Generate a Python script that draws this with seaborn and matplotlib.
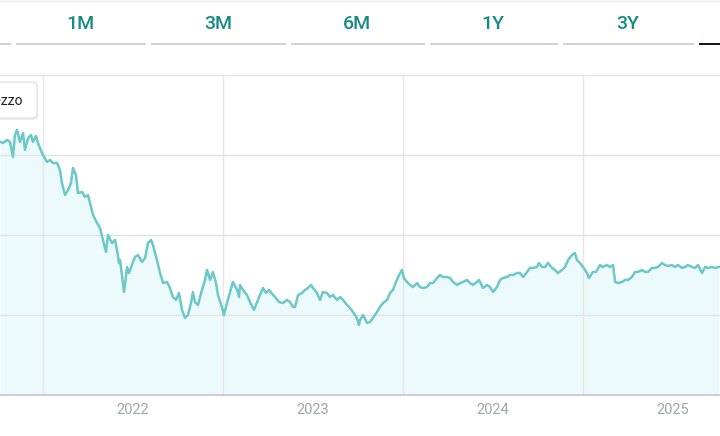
import pandas as pd
import matplotlib.pyplot as plt
import seaborn as sns
from matplotlib.patches import Rectangle, FancyBboxPatch
from matplotlib.transforms import IdentityTransform

# Serie storica (anno decimale, prezzo)
anni = [
    2021.261, 2021.278, 2021.300, 2021.317, 2021.333, 2021.344, 2021.355, 2021.372, 2021.389, 2021.400,
    2021.417, 2021.433, 2021.444, 2021.461, 2021.472, 2021.494, 2021.522, 2021.539, 2021.555, 2021.578,
    2021.594, 2021.605, 2021.622, 2021.639, 2021.655, 2021.667, 2021.683, 2021.694, 2021.717, 2021.733,
    2021.750, 2021.767, 2021.778, 2021.800, 2021.817, 2021.833, 2021.850, 2021.861, 2021.883, 2021.900,
    2021.911, 2021.922, 2021.928, 2021.950, 2021.967, 2021.978, 2022.000, 2022.011, 2022.028, 2022.050,
    2022.067, 2022.083, 2022.100, 2022.111, 2022.133, 2022.150, 2022.167, 2022.189, 2022.205, 2022.222,
    2022.239, 2022.255, 2022.272, 2022.289, 2022.305, 2022.322, 2022.333, 2022.344, 2022.361, 2022.383,
    2022.400, 2022.411, 2022.428, 2022.444, 2022.461, 2022.472, 2022.494, 2022.505, 2022.522, 2022.539,
    2022.555, 2022.578, 2022.589, 2022.594, 2022.611, 2022.633, 2022.650, 2022.672, 2022.694, 2022.722,
    2022.739, 2022.755, 2022.778, 2022.794, 2022.811, 2022.833, 2022.855, 2022.872, 2022.889, 2022.900,
    2022.917, 2022.939, 2022.955, 2022.972, 2022.989, 2023.000, 2023.022, 2023.039, 2023.055, 2023.078,
    2023.094, 2023.111, 2023.133, 2023.150, 2023.167, 2023.189, 2023.205, 2023.222, 2023.244, 2023.255,
    2023.261, 2023.278, 2023.300, 2023.317, 2023.333, 2023.355, 2023.372, 2023.389, 2023.411, 2023.428,
    2023.444, 2023.461, 2023.478, 2023.494, 2023.505, 2023.522, 2023.539, 2023.555, 2023.578, 2023.594,
    2023.611, 2023.633, 2023.650, 2023.667, 2023.689, 2023.705, 2023.722, 2023.744, 2023.761, 2023.778,
    2023.800, 2023.817, 2023.833, 2023.855, 2023.872, 2023.889, 2023.911, 2023.922, 2023.928, 2023.944,
    2023.967, 2023.983, 2024.000, 2024.022, 2024.039, 2024.055, 2024.078, 2024.094, 2024.111, 2024.133,
    2024.150, 2024.167, 2024.189, 2024.205, 2024.222, 2024.244, 2024.255, 2024.272, 2024.289, 2024.305,
    2024.328, 2024.344, 2024.361, 2024.383, 2024.400, 2024.417, 2024.439, 2024.455, 2024.466, 2024.483,
    2024.500, 2024.522, 2024.533, 2024.555, 2024.572, 2024.594, 2024.611, 2024.633, 2024.650, 2024.667,
    2024.678, 2024.694, 2024.717, 2024.733, 2024.750, 2024.772, 2024.789, 2024.805, 2024.828, 2024.844,
    2024.861, 2024.883, 2024.900, 2024.917, 2024.939, 2024.955, 2024.972, 2024.994, 2025.011, 2025.028,
    2025.050, 2025.067, 2025.083, 2025.105, 2025.122, 2025.139, 2025.161, 2025.178, 2025.194, 2025.217,
    2025.233, 2025.255,
]
prezzo = [
    41.66, 41.50, 41.88, 41.63, 39.75, 42.50, 43.13, 41.63, 42.75, 40.63,
    42.13, 42.50, 41.63, 42.38, 41.50, 40.25, 39.13, 39.38, 39.00, 39.00,
    38.13, 36.50, 35.00, 35.63, 36.50, 38.38, 37.50, 35.25, 35.38, 34.75,
    35.00, 33.50, 32.50, 31.50, 30.88, 29.38, 27.88, 30.00, 29.00, 29.38,
    28.13, 26.50, 26.88, 22.88, 26.00, 25.25, 26.63, 27.25, 27.50, 26.63,
    27.13, 29.00, 29.38, 28.75, 26.88, 25.25, 24.00, 24.13, 23.38, 22.25,
    21.88, 22.75, 20.63, 19.63, 20.00, 21.50, 22.88, 21.63, 21.25, 23.13,
    24.38, 25.63, 24.38, 25.38, 24.00, 22.50, 21.00, 20.00, 21.50, 22.88,
    24.13, 23.13, 22.25, 23.75, 23.13, 22.50, 21.63, 20.63, 21.88, 23.38,
    22.75, 23.13, 22.50, 22.13, 21.63, 21.50, 21.88, 21.63, 21.00, 21.00,
    22.50, 22.75, 23.13, 23.38, 23.75, 23.38, 22.75, 21.88, 22.88, 22.75,
    22.25, 22.50, 21.88, 22.25, 21.88, 21.25, 20.88, 20.38, 19.63, 18.75,
    19.38, 20.00, 19.00, 19.13, 19.63, 20.38, 21.00, 21.50, 21.88, 22.75,
    23.13, 24.13, 25.00, 25.63, 24.63, 24.13, 23.75, 23.50, 24.00, 23.50,
    23.38, 23.50, 24.00, 24.00, 24.63, 25.00, 24.75, 24.75, 24.63, 24.13,
    23.75, 24.00, 24.13, 24.38, 24.00, 23.75, 24.13, 24.38, 24.13, 23.38,
    23.75, 23.50, 22.88, 23.50, 24.38, 24.63, 24.75, 25.00, 25.00, 25.25,
    25.25, 24.75, 25.38, 25.88, 25.88, 26.00, 26.50, 26.00, 26.00, 26.50,
    25.88, 25.63, 25.25, 25.63, 26.00, 26.88, 27.50, 27.75, 26.88, 26.50,
    26.00, 25.25, 24.63, 25.38, 25.38, 26.25, 26.00, 26.25, 26.00, 26.25,
    24.13, 24.00, 24.13, 24.38, 24.38, 24.75, 25.38, 25.38, 25.63, 25.38,
    25.38, 25.88, 25.88, 26.00, 26.50, 26.25, 26.13, 26.25, 26.00, 26.25,
    25.88, 26.00, 26.25, 26.00, 25.88, 26.25, 25.25, 26.00, 25.88, 26.00,
    25.88, 26.00,
]
periodi = ["1M", "3M", "6M", "1Y", "3Y"]
anni_etichette = [2022, 2023, 2024, 2025]
griglia_x = [2021.5, 2022.5, 2023.5, 2024.5]
griglia_y = [20, 30, 40, 50]

df = pd.DataFrame({"anno": anni, "prezzo": prezzo})

W, H = 720, 436
sns.set_theme(style="white")
plt.rcParams["font.family"] = ["Roboto", "DejaVu Sans"]

fig = plt.figure(figsize=(W / 100, H / 100), dpi=100)


def fx(px):
    return px / W


def fy(py):
    return 1 - py / H


# barra grigia in alto
fig.add_artist(Rectangle((0, fy(3)), 1, 3 / H, color="#f3f4f5", lw=0))

# pulsanti periodo
centri = [80, 218, 357, 493, 628]
for lab, cx in zip(periodi, centri):
    fig.text(fx(cx), fy(24), lab, ha="center", va="center", color="#168a84",
             fontsize=14, fontweight="medium")

segmenti = [(0, 11), (16, 146), (151, 286), (291, 425), (430, 558), (563, 694)]
for x0, x1 in segmenti:
    fig.add_artist(Rectangle((fx(x0), fy(45)), fx(x1 - x0), 2 / H, color="#cbd4e1", lw=0))
fig.add_artist(Rectangle((fx(699), fy(45)), fx(30), 2 / H, color="#1a1a1a", lw=0))

# area del grafico
ax = fig.add_axes([0, fy(395), 1, (395 - 75) / H])
ax.fill_between(df["anno"], df["prezzo"], 10, color="#edfafb", lw=0, zorder=0.5)
for g in griglia_x:
    ax.axvline(g, color="#e6e6e6", lw=1, zorder=1)
for g in griglia_y:
    ax.axhline(g, color="#e2e2e2", lw=1, zorder=1)
sns.lineplot(data=df, x="anno", y="prezzo", ax=ax, color="#6cc8c9", linewidth=1.8, zorder=2)

ax.set_xlim(2021.261, 2025.261)
ax.set_ylim(10, 50)
ax.set_xlabel("")
ax.set_ylabel("")
ax.set_yticks([])
ax.set_xticks(anni_etichette)
ax.set_xticklabels([str(a) for a in anni_etichette], color="#a2a6aa", fontsize=10.5,
                   family=["Liberation Sans Narrow", "Roboto", "DejaVu Sans"])
ax.tick_params(axis="x", length=0, pad=6)
for s in ["top", "left", "right"]:
    ax.spines[s].set_visible(False)
ax.spines["bottom"].set_color("#c4c8cc")
ax.spines["bottom"].set_linewidth(1.2)
ax.set_facecolor("none")

# riquadro legenda (tagliato a sinistra come nello screenshot)
ombra = FancyBboxPatch((-30 + 1, H - 118 - 2), 67, 36, boxstyle="round,pad=0,rounding_size=5",
                       transform=IdentityTransform(), facecolor="#000000", alpha=0.08, lw=0)
box = FancyBboxPatch((-30, H - 118), 67, 36, boxstyle="round,pad=0,rounding_size=5",
                     transform=IdentityTransform(), facecolor="white", edgecolor="#e4e4e4", lw=1)
fig.add_artist(ombra)
fig.add_artist(box)
fig.text(fx(23), fy(101), "Prezzo", ha="right", va="center", color="#222222", fontsize=10)

fig.savefig("out.png", dpi=100)
